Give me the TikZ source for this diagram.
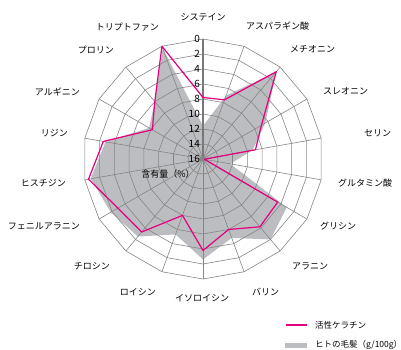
\documentclass[tikz,border=0pt]{standalone}
\usepackage{fontspec}
\setmainfont{Noto Sans CJK JP}
\usetikzlibrary{positioning}
\definecolor{keratin}{HTML}{E4007F}
\definecolor{hair}{HTML}{BCBDC0}
\definecolor{gridgray}{HTML}{858585}
\tikzstyle{ring} = [draw=gridgray, line width=0.6pt]
\tikzstyle{spoke} = [draw=gridgray, line width=0.6pt]
\tikzset{
	mainaxis/.style={draw=gridgray!90!black, line width=1.4pt},
	aminolabel/.style={font=\fontsize{9}{10}\selectfont, inner sep=0pt},
	ticklabel/.style={font=\fontsize{10}{11}\selectfont, anchor=east, inner sep=0pt},
	legendlabel/.style={font=\fontsize{8.5}{10}\selectfont, anchor=west, inner sep=0pt},
	keratinline/.style={draw=keratin, line width=1.2pt, line join=round},
}

\begin{document}
\begin{tikzpicture}[x=1pt,y=1pt]
\useasboundingbox (-203,-190) rectangle (198,159);

% values, 0 outside -- 16 at the centre
\foreach \v [count=\i from 0] in {11.6,7.0,0.8,6.4,9.3,12.3,3.1,2.0,4.8,2.6,5.3,2.5,1.8,0.8,2.8,7.7,6.0,0.3}
	\coordinate (h\i) at ({90-20*\i}:{7.5*(16-\v)});
\foreach \v [count=\i from 0] in {7.8,7.6,0.8,7.0,8.9,15.8,4.5,4.2,6.0,3.8,8.0,3.3,2.9,0.5,2.5,8.2,6.0,0}
	\coordinate (k\i) at ({90-20*\i}:{7.5*(16-\v)});

\fill[hair] (h0) \foreach \i in {1,...,17} {-- (h\i)} -- cycle;

%rings and spokes
\foreach \r in {15,30,...,120}
	\draw[ring] (90:\r) \foreach \a in {70,50,...,-250} {-- (\a:\r)} -- cycle;
\foreach \a in {70,50,...,-250}
	\draw[spoke] (0,0) -- (\a:120);
\draw[mainaxis] (0,0) -- (90:120);
\fill[gridgray] (0,0) circle (2.6);

%ticks
\foreach \v in {0,2,...,16}
	\node[ticklabel] at (-3,{7.5*(16-\v)}) {\v};

\draw[keratinline] (k0) \foreach \i in {1,...,17} {-- (k\i)} -- cycle;

\node [aminolabel] at (0,142) (cys) {システイン};
\node [aminolabel, anchor=west] at (43,133) (asp) {アスパラギン酸};
\node [aminolabel, anchor=west] at (87,110) (met) {メチオニン};
\node [aminolabel, anchor=west] at (120,68) (thr) {スレオニン};
\node [aminolabel, anchor=west] at (161,26) (ser) {セリン};
\node [aminolabel, anchor=west] at (135,-24) (glu) {グルタミン酸};
\node [aminolabel, anchor=west] at (117,-67) (gly) {グリシン};
\node [aminolabel, anchor=west] at (89,-107) (ala) {アラニン};
\node [aminolabel, anchor=west] at (49,-133) (val) {バリン};
\node [aminolabel] at (-1,-139) (ile) {イソロイシン};
\node [aminolabel, anchor=east] at (-47,-133) (leu) {ロイシン};
\node [aminolabel, anchor=east] at (-93,-107) (tyr) {チロシン};
\node [aminolabel, anchor=east] at (-123,-67) (phe) {フェニルアラニン};
\node [aminolabel, anchor=east] at (-137,-24) (his) {ヒスチジン};
\node [aminolabel, anchor=east] at (-135,26) (lys) {リジン};
\node [aminolabel, anchor=east] at (-123,67) (arg) {アルギニン};
\node [aminolabel, anchor=east] at (-89,109) (pro) {プロリン};
\node [aminolabel, anchor=east] at (-44,132) (trp) {トリプトファン};

\node [aminolabel] at (-35,-15) (unit) {含有量（\%）};

%legend
\coordinate (kl) at (83,-166);
\coordinate (kr) at (104,-166);
\draw[keratinline] (kl) -- (kr);
\node [legendlabel, right=8 of kr] (keratintext) {活性ケラチン};
\fill[hair] (82,-183.5) rectangle (104,-188.5);
\node [legendlabel] at (112,-186) (hairtext) {ヒトの毛髪（g/100g）};

\end{tikzpicture}
\end{document}
